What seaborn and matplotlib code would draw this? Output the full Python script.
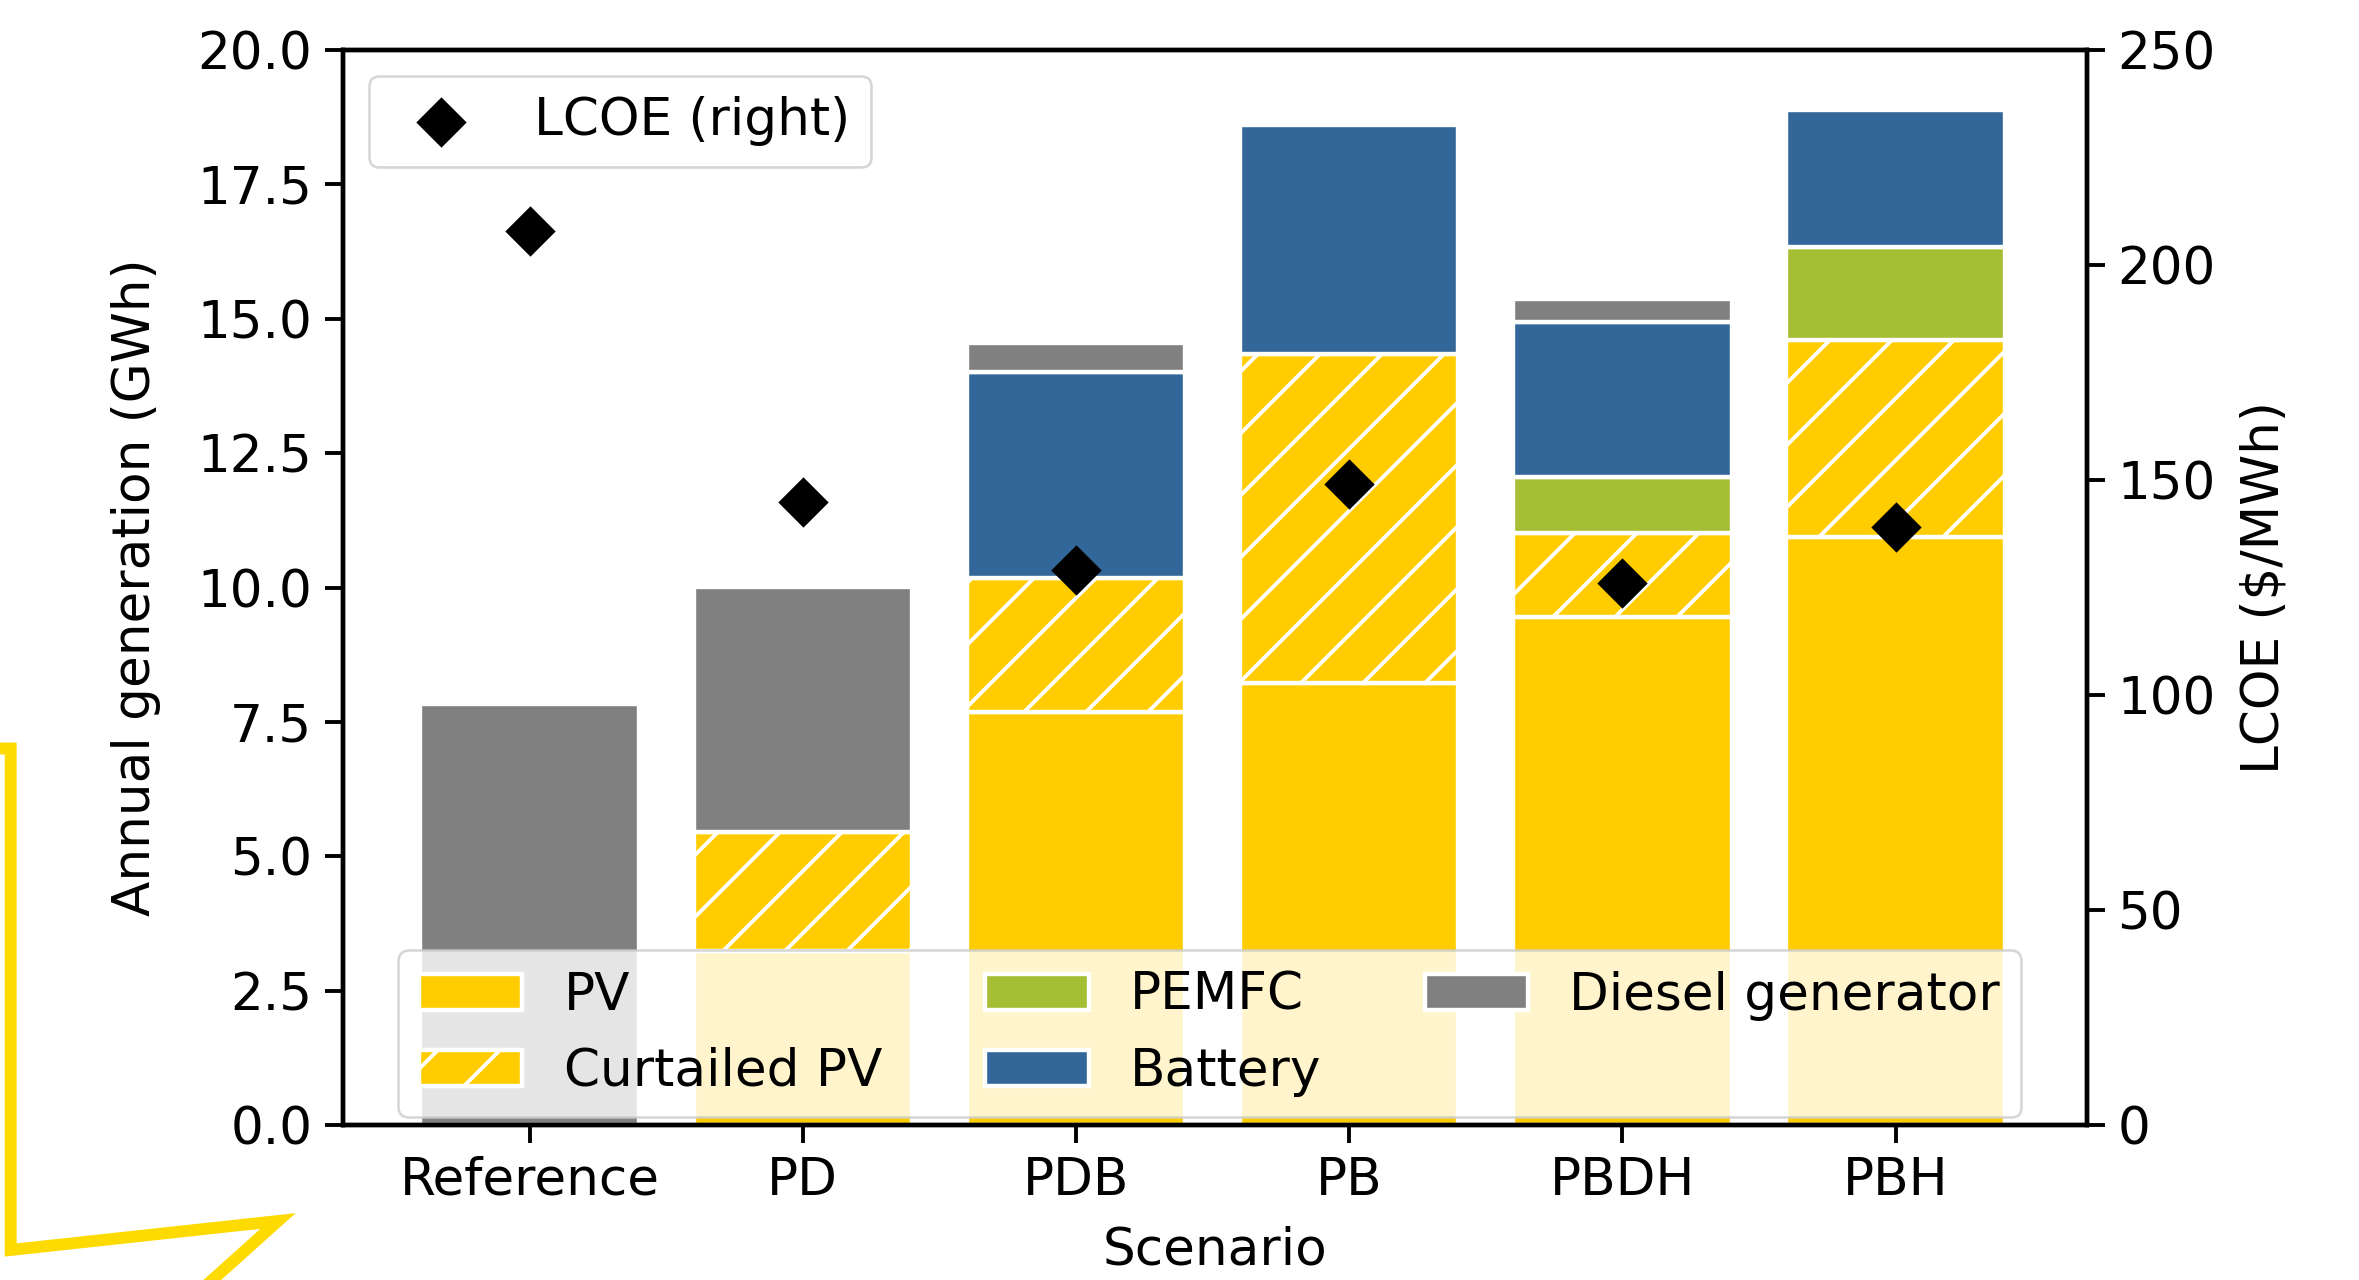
import matplotlib
matplotlib.use('Agg')
import numpy as np
import pandas as pd
import seaborn as sns
import matplotlib.pyplot as plt
from matplotlib.lines import Line2D

# --- Data (GWh per segment, stacked bottom to top) ---
scenarios = ['Reference', 'PD', 'PDB', 'PB', 'PBDH', 'PBH']
pv = [0.0, 3.24, 7.69, 8.22, 9.45, 10.94]
curtailed_pv = [0.0, 2.21, 2.49, 6.13, 1.57, 3.66]
pemfc = [0.0, 0.0, 0.0, 0.0, 1.04, 1.74]
battery = [0.0, 0.0, 3.83, 4.25, 2.88, 2.54]
diesel = [7.83, 4.56, 0.54, 0.0, 0.42, 0.0]
lcoe = [208, 145, 129, 149, 126, 139]

left_ticks = [0, 2.5, 5, 7.5, 10, 12.5, 15, 17.5, 20]
right_ticks = [0, 50, 100, 150, 200, 250]

# dpi chosen so the '/' hatch spacing matches the original
DPI = 186

# --- Styling ---
plt.rcParams['font.family'] = ['DejaVu Sans']
plt.rcParams['font.size'] = 20
plt.rcParams['hatch.color'] = 'white'
plt.rcParams['hatch.linewidth'] = 1.5
plt.rcParams['axes.linewidth'] = 1.7
plt.rcParams['xtick.major.size'] = 7
plt.rcParams['ytick.major.size'] = 7
plt.rcParams['xtick.major.width'] = 1.5
plt.rcParams['ytick.major.width'] = 1.5
plt.rcParams['xtick.major.pad'] = 4.9
plt.rcParams['ytick.major.pad'] = 4.9

pv_yellow = '#FFCC00'
layers = [
    ('PV', pv, pv_yellow, None),
    ('Curtailed PV', curtailed_pv, pv_yellow, '/'),
    ('PEMFC', pemfc, '#A5BE34', None),
    ('Battery', battery, '#346799', None),
    ('Diesel generator', diesel, '#808080', None),
]

fig = plt.figure(figsize=(2359 / DPI, 1280 / DPI), dpi=DPI)
ax = fig.add_axes([0.1454, 0.121, 0.7392, 0.840])

bottom = np.zeros(len(scenarios))
for name, vals, color, hatch in layers:
    vals = np.array(vals)
    keep = vals > 0
    df = pd.DataFrame({'scenario': np.array(scenarios)[keep], 'value': vals[keep]})
    sns.barplot(data=df, x='scenario', y='value', order=scenarios, color=color,
                saturation=1, hatch=hatch, bottom=bottom[keep], edgecolor='white',
                linewidth=1.7, width=0.8, errorbar=None, label=name, ax=ax)
    bottom += vals

ax.set_xlim(-0.683, 5.70)
ax.set_ylim(0, 20)
ax.set_yticks(left_ticks)
ax.yaxis.set_major_formatter(matplotlib.ticker.FormatStrFormatter('%.1f'))
ax.set_ylabel('Annual generation (GWh)', labelpad=14)
ax.legend(loc='lower center', ncol=3, bbox_to_anchor=(0.497, 0.0), borderaxespad=0.15)

# LCOE on the right axis
ax2 = ax.twinx()
lcoe_df = pd.DataFrame({'pos': np.arange(len(scenarios)), 'lcoe': lcoe})
sns.scatterplot(data=lcoe_df, x='pos', y='lcoe', marker='D', color='black', s=190,
                edgecolor='black', linewidth=0, label='LCOE (right)', zorder=5, ax=ax2)
ax2.set_ylim(0, 250)
ax2.set_yticks(right_ticks)
ax2.set_ylabel('LCOE ($/MWh)', labelpad=9)
ax2.set_xlim(-0.683, 5.70)
ax2.legend(loc='upper left')
ax.set_xticks(range(len(scenarios)))
ax.set_xticklabels(scenarios)
ax.set_xlabel('Scenario', labelpad=7.5)

# decorative yellow outline from the slide
fig.add_artist(Line2D([-20 / 2359, 10.7 / 2359, 10.7 / 2359, 278 / 2359, 190 / 2359],
                      [1 - 748.5 / 1280, 1 - 748.5 / 1280, 1 - 1250 / 1280, 1 - 1221 / 1280, 1 - 1300 / 1280],
                      transform=fig.transFigure, color='#FEDB00', linewidth=4.6,
                      solid_joinstyle='miter', clip_on=False))

fig.savefig('out.png', dpi=DPI)
